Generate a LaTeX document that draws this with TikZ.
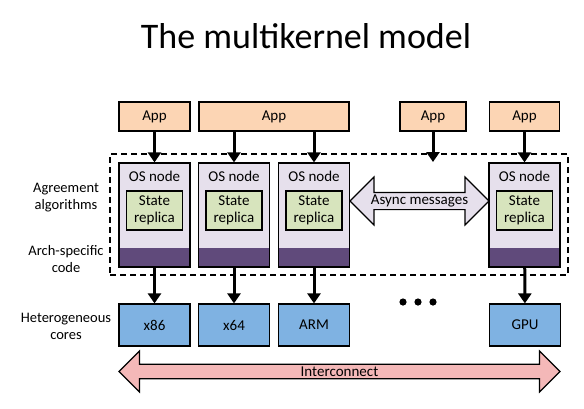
\documentclass[tikz,border=0pt]{standalone}
\usepackage{fontspec}
\setmainfont{Carlito}
\usetikzlibrary{arrows.meta, shapes.arrows, calc}

\definecolor{appc}{HTML}{FCD5B4}
\definecolor{osc}{HTML}{E6E0EC}
\definecolor{archc}{HTML}{604A7B}
\definecolor{statec}{HTML}{D7E4BD}
\definecolor{corec}{HTML}{7FB2E2}
\definecolor{linkc}{HTML}{F4B8B8}

\begin{document}
\begin{tikzpicture}[x=1pt,y=-1pt,
    box/.style={draw=black,line width=1.2pt,inner sep=0pt,font=\fontsize{15}{17}\selectfont},
    appbox/.style={box,fill=appc,minimum height=29pt},
    osbox/.style={box,fill=osc,minimum width=71pt,minimum height=104pt,
      path picture={\fill[archc] ([yshift=19pt]path picture bounding box.south west)
        rectangle (path picture bounding box.south east);},
      label={[anchor=center,inner sep=0pt,label distance=0pt,yshift=-14pt,
        font=\fontsize{15}{17}\selectfont]north:OS node}},
    statebox/.style={box,fill=statec,minimum width=56pt,minimum height=39pt,align=center,
      font=\fontsize{15}{17}\selectfont},
    corebox/.style={box,fill=corec,minimum width=71pt,minimum height=42pt},
    arr/.style={line width=3pt,-{Triangle[length=10pt,width=13pt]}},
    side/.style={align=center,font=\fontsize{14.5}{17}\selectfont}]
  \useasboundingbox[fill=white] (0,0) rectangle (584,408);

  \node[font=\fontsize{36}{42}\selectfont,anchor=base] (title) at (306,48) {The multikernel model};

  % apps
  \node[appbox,minimum width=71pt] (app1) at (154.5,116.5) {App};
  \node[appbox,minimum width=150pt] (app2) at (274,116.5) {App};
  \node[appbox,minimum width=66pt] (app3) at (433,116.5) {App};
  \node[appbox,minimum width=70pt] (app4) at (524.5,116.5) {App};

  % kernel
  \node[draw=black,line width=1.5pt,dash pattern=on 6pt off 4pt,minimum width=458pt,
    minimum height=121pt,inner sep=0pt] (kernel) at (339,214.5) {};

  \node[osbox] (os1) at (154.5,215) {};
  \node[osbox] (os2) at (234,215) {};
  \node[osbox] (os3) at (314,215) {};
  \node[osbox] (os4) at (524.5,215) {};

  \node[statebox] (st1) at (154.5,210.5) {State\\replica};
  \node[statebox] (st2) at (234,210.5) {State\\replica};
  \node[statebox] (st3) at (314,210.5) {State\\replica};
  \node[statebox] (st4) at (524.5,210.5) {State\\replica};

  \node[double arrow,draw=black,line width=1.2pt,fill=osc,minimum height=139pt,
    minimum width=48pt,double arrow head extend=12pt,inner sep=0pt,
    font=\fontsize{15}{17}\selectfont] (msgs) at (419.5,201) {Async messages};

  % cores
  \node[corebox] (x86) at (154.5,325) {x86};
  \node[corebox] (x64) at (234,325) {x64};
  \node[corebox] (arm) at (314,325) {ARM};
  \node[corebox] (gpu) at (525,325) {GPU};

  \foreach \i in {403,418,433}
    \fill (\i,302) circle (3.6pt);

  \node[double arrow,draw=black,line width=1.2pt,fill=linkc,minimum height=441pt,
    minimum width=41pt,double arrow head extend=10pt,inner sep=0pt,
    font=\fontsize{15}{17}\selectfont] (link) at (339.5,371.5) {Interconnect};

  % arrows
  \coordinate (k3) at (433,162);
  \draw[arr] (app1) -- (os1);
  \draw[arr] (app2.south -| os2) -- (os2);
  \draw[arr] (app2.south -| os3) -- (os3);
  \draw[arr] (app3) -- (k3);
  \draw[arr] (app4) -- (os4);
  \draw[arr] (os1) -- (x86);
  \draw[arr] (os2) -- (x64);
  \draw[arr] (os3) -- (arm);
  \draw[arr] (os4) -- (gpu);

  % layer labels
  \node[side] (agree) at (66,198) {Agreement\\algorithms};
  \node[side] (archs) at (66,259) {Arch-specific\\code};
  \node[side] (het) at (66,326) {Heterogeneous\\cores};
\end{tikzpicture}
\end{document}
